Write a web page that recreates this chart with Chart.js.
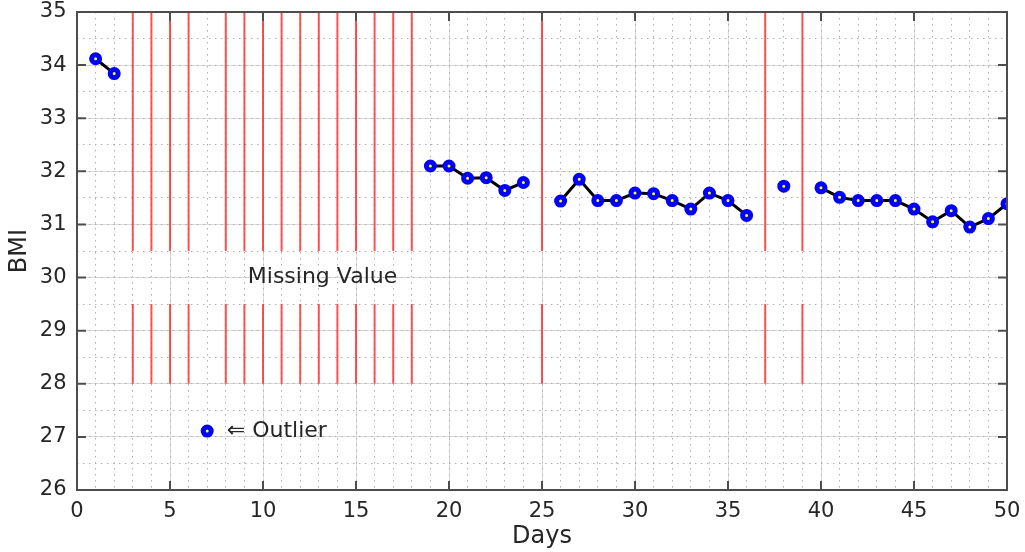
<!DOCTYPE html>
<html><head><meta charset="utf-8">
<script src="https://cdn.jsdelivr.net/npm/chart.js@4/dist/chart.umd.min.js"></script>
<style>html,body{margin:0;padding:0;background:#fff}#wrap{width:1025px;height:552px}</style>
</head><body><div id="wrap"><canvas id="c" width="1025" height="552"></canvas></div>
<script>
// ---- data ----
const days = Array.from({length: 50}, (_, i) => i + 1);
const bmi = [34.12, 33.84, null, null, null, null, 27.11,
  null, null, null, null, null, null, null, null, null, null, null,
  32.10, 32.10, 31.87, 31.88, 31.64, 31.79,
  null,
  31.44, 31.85, 31.45, 31.45, 31.59, 31.58, 31.45, 31.29, 31.59, 31.45, 31.17,
  null,
  31.72,
  null,
  31.69, 31.51, 31.45, 31.45, 31.45, 31.29, 31.05, 31.26, 30.95, 31.11, 31.39];
const missingDays = [3, 4, 5, 6, 8, 9, 10, 11, 12, 13, 14, 15, 16, 17, 18, 25, 37, 39];
const missingLow = [28, 29.5];
const missingHigh = [30.5, 35];
const xTicks = [0, 5, 10, 15, 20, 25, 30, 35, 40, 45, 50];
const yTicks = [26, 27, 28, 29, 30, 31, 32, 33, 34, 35];
const outlierNote = {x: 8.05, y: 27.1, text: '\u21D0 Outlier'};
const missingNote = {x: 13.2, y: 30.0, text: 'Missing Value'};

// ---- build ----
const redData = [];
missingDays.forEach(d => {
  redData.push({x: d, y: missingLow[0]}, {x: d, y: missingLow[1]}, {x: d, y: null});
  redData.push({x: d, y: missingHigh[0]}, {x: d, y: missingHigh[1]}, {x: d, y: null});
});
const bmiData = days.map((d, i) => ({x: d, y: bmi[i]}));

const FONT = '"DejaVu Sans", Verdana, sans-serif';
const TXT = '#262626';

const framePlugin = {
  id: 'frame',
  afterDatasetsDraw(chart) {
    const {ctx, chartArea: a, scales} = chart;
    const x = scales.x, y = scales.y;
    ctx.save();
    ctx.strokeStyle = '#4d4d4d';
    ctx.lineWidth = 2;
    ctx.strokeRect(a.left, a.top, a.right - a.left, a.bottom - a.top);
    ctx.beginPath();
    xTicks.forEach(v => {
      const px = x.getPixelForValue(v);
      ctx.moveTo(px, a.bottom); ctx.lineTo(px, a.bottom - 9);
      ctx.moveTo(px, a.top); ctx.lineTo(px, a.top + 9);
    });
    yTicks.forEach(v => {
      const py = y.getPixelForValue(v);
      ctx.moveTo(a.left, py); ctx.lineTo(a.left + 9, py);
      ctx.moveTo(a.right, py); ctx.lineTo(a.right - 9, py);
    });
    ctx.stroke();
    ctx.fillStyle = TXT;
    ctx.font = '22px ' + FONT;
    ctx.textBaseline = 'middle';
    ctx.textAlign = 'left';
    ctx.fillText(outlierNote.text, x.getPixelForValue(outlierNote.x), y.getPixelForValue(outlierNote.y));
    ctx.textAlign = 'center';
    ctx.fillText(missingNote.text, x.getPixelForValue(missingNote.x), y.getPixelForValue(missingNote.y));
    ctx.restore();
  }
};

new Chart(document.getElementById('c'), {
  type: 'line',
  data: {
    datasets: [
      {data: redData, borderColor: 'rgba(255,40,40,0.8)', borderWidth: 2, pointRadius: 0, spanGaps: false, order: 2},
      {data: bmiData, borderColor: '#000', borderWidth: 3, spanGaps: false,
       pointRadius: 4, pointBorderWidth: 5, pointBorderColor: '#0000ff', pointBackgroundColor: '#ffff00', order: 1}
    ]
  },
  options: {
    responsive: false,
    animation: false,
    layout: {padding: {left: 0, right: 18, top: 0, bottom: 0}},
    plugins: {legend: {display: false}, tooltip: {enabled: false}},
    scales: {
      x: {
        type: 'linear', min: 0, max: 50, position: 'bottom',
        ticks: {stepSize: 5, color: TXT, font: {family: FONT, size: 21, lineHeight: 1.714}, padding: 4},
        grid: {color: '#dcdcdc', drawTicks: false, lineWidth: 1},
        border: {display: false},
        title: {display: true, text: 'Days', color: TXT, font: {family: FONT, size: 24, lineHeight: 0.25}, padding: {top: 0, bottom: 12}}
      },
      xMinor: {
        type: 'linear', min: 0, max: 50, position: 'top',
        ticks: {display: false, stepSize: 1},
        grid: {color: '#b0b0b0', drawTicks: false, lineWidth: 1},
        border: {display: false, dash: [1.5, 4.5]}
      },
      y: {
        type: 'linear', min: 26, max: 35, position: 'left',
        ticks: {stepSize: 1, color: TXT, font: {family: FONT, size: 21, lineHeight: 0.143}, padding: 10.5},
        grid: {color: '#dcdcdc', drawTicks: false, lineWidth: 1},
        border: {display: false},
        title: {display: true, text: 'BMI', color: TXT, font: {family: FONT, size: 24, lineHeight: 0.82}, padding: {top: 9.6, bottom: 0}}
      },
      yMinor: {
        type: 'linear', min: 26, max: 35, position: 'right',
        ticks: {display: false, stepSize: 0.5},
        grid: {color: '#b0b0b0', drawTicks: false, lineWidth: 1},
        border: {display: false, dash: [1.5, 4.5]}
      }
    }
  },
  plugins: [framePlugin]
});
</script>
</body></html>
